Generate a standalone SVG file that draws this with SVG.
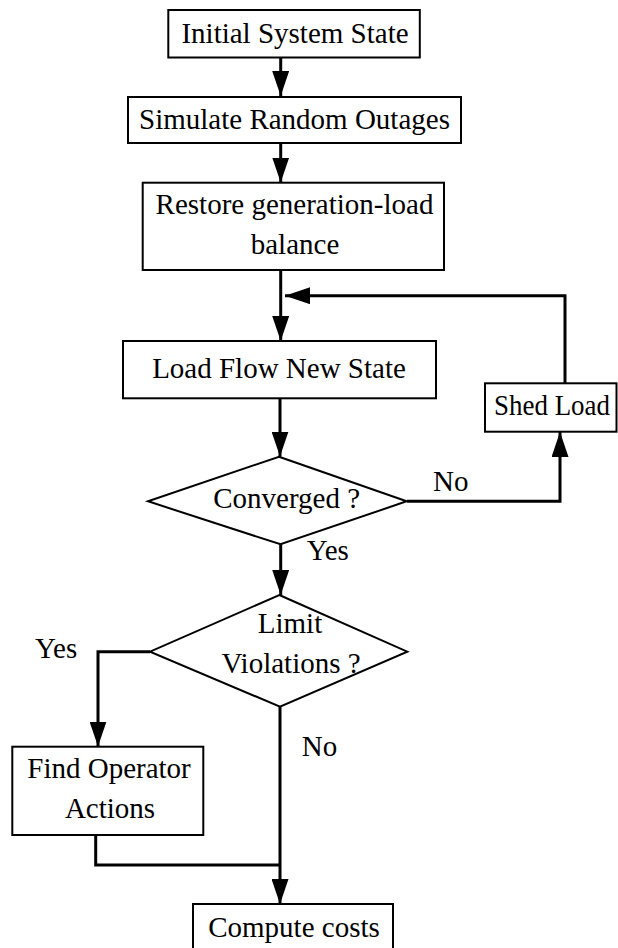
<svg xmlns="http://www.w3.org/2000/svg" width="618" height="948" viewBox="0 0 618 948">
<style>
.box{fill:#fff;stroke:#000;stroke-width:2}
.t{font-family:"Liberation Serif","Times New Roman",serif;font-size:29px;fill:#000}
.c{text-anchor:middle}
.con{fill:none;stroke:#000;stroke-width:3}
</style>
<defs>
<marker id="ah" viewBox="0 0 25 17" refX="25" refY="8.5" markerWidth="25" markerHeight="17" markerUnits="userSpaceOnUse" orient="auto">
<path d="M0,0 L25,8.5 L0,17 Z" fill="#000"/>
</marker>
</defs>
<rect width="618" height="948" fill="#fff"/>
<g id="connectors">
<path class="con" d="M280.7 57 V96" marker-end="url(#ah)"/>
<path class="con" d="M280.7 143 V182.5" marker-end="url(#ah)"/>
<path class="con" d="M280.7 270 V341" marker-end="url(#ah)"/>
<path class="con" d="M565 383 V295.7 H285" marker-end="url(#ah)"/>
<path class="con" d="M280 398 V456.5" marker-end="url(#ah)"/>
<path class="con" d="M407 501.3 H560 V432" marker-end="url(#ah)"/>
<path class="con" d="M280.7 544 V595" marker-end="url(#ah)"/>
<path class="con" d="M150 651.7 H98 V746.5" marker-end="url(#ah)"/>
<path class="con" d="M280 707 V904" marker-end="url(#ah)"/>
<path class="con" d="M95.7 835 V865 H280"/>
</g>
<g id="initial">
<rect class="box" x="168.3" y="10" width="251.5" height="47.5"/>
<text class="t c" x="295" y="43">Initial System State</text>
</g>
<g id="simulate">
<rect class="box" x="128" y="97" width="333" height="46"/>
<text class="t c" x="294.5" y="128.5">Simulate Random Outages</text>
</g>
<g id="restore">
<rect class="box" x="142.7" y="182.7" width="301.3" height="87.3"/>
<text class="t c" x="294.5" y="214">Restore generation-load</text>
<text class="t c" x="295" y="253.5">balance</text>
</g>
<g id="loadflow">
<rect class="box" x="123" y="341" width="313" height="57.3"/>
<text class="t c" x="279" y="377.5">Load Flow New State</text>
</g>
<g id="shed">
<rect class="box" x="485" y="383.3" width="131.5" height="48.4"/>
<text class="t" x="494" y="415" textLength="116" lengthAdjust="spacingAndGlyphs">Shed Load</text>
</g>
<g id="converged">
<polygon class="box" points="279,456.7 406.7,501.3 280.5,544.3 148,501.3"/>
<text class="t c" x="286.7" y="508">Converged ?</text>
</g>
<g id="limit">
<polygon class="box" points="279.3,595 407.3,651.7 280,706.7 150,651.7"/>
<text class="t c" x="290" y="633">Limit</text>
<text class="t c" x="291" y="673">Violations ?</text>
</g>
<g id="findop">
<rect class="box" x="12.3" y="746.7" width="191" height="88.3"/>
<text class="t c" x="109" y="778">Find Operator</text>
<text class="t c" x="110" y="818.3">Actions</text>
</g>
<g id="compute">
<rect class="box" x="193" y="904" width="200" height="50"/>
<text class="t c" x="294" y="937">Compute costs</text>
</g>
<g id="labels">
<text class="t" x="433" y="491">No</text>
<text class="t" x="306.7" y="560">Yes</text>
<text class="t" x="35" y="658">Yes</text>
<text class="t" x="301.7" y="756">No</text>
</g>
</svg>
